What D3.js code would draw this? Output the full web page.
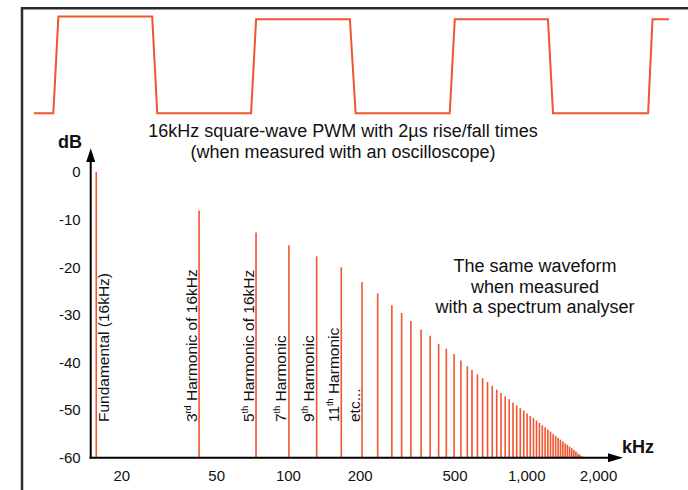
<!DOCTYPE html>
<html>
<head>
<meta charset="utf-8">
<script src="https://cdn.jsdelivr.net/npm/d3@7"></script>
<style>
  body { margin: 0; background: #fff; }
  svg text { font-family: "Liberation Sans", Arial, sans-serif; fill: #111; }
</style>
</head>
<body>
<div id="chart"></div>
<script>

// oscilloscope trace (time in us, level 0 = low, 1 = high)
const waveTimes  = [0, 6.1, 7.7, 37.3, 38.9, 68.5, 70.1, 99.7, 101.5, 131.2, 132.8, 162.2, 163.8, 193.8, 195.2, 200.4];
const waveLevels = [0, 0, 1.03, 1.03, 0, 0, 1, 1, 0, 0, 1, 1, 0, 0, 1, 1];

// spectrum lines (odd harmonics), kHz and dB
const freqKHz = [15.7, 42.4, 73.5, 101, 132, 167.5, 204.6, 238, 273, 300, 328, 362, 395, 429, 462, 498, 532, 566,
    592, 624, 656, 688, 720, 752, 784, 816, 848, 880, 912, 944, 976, 1008, 1040, 1072, 1104, 1136, 1168, 1200,
    1232, 1264, 1296, 1328, 1360, 1392, 1424, 1456, 1488, 1520, 1552, 1584, 1616, 1648, 1680, 1712];
const levelDb = [0, -8.1, -12.7, -15.4, -17.7, -20.0, -23.1, -25.5, -28.0, -29.6, -31.3, -33.1, -34.4, -36.1, -37.1, -38.2, -39.6, -40.8,
    -41.6, -42.5, -43.3, -44.1, -44.9, -45.7, -46.4, -47.1, -47.7, -48.4, -49.0, -49.6, -50.1, -50.7, -51.2, -51.7, -52.2, -52.7,
    -53.2, -53.6, -54.1, -54.5, -55.0, -55.4, -55.8, -56.2, -56.6, -57.0, -57.3, -57.7, -58.0, -58.4, -58.7, -59.1, -59.4, -59.7];

// labels on the first lines
const labelMain = ["Fundamental (16kHz)", "3", "5", "7", "9", "11", "etc..."];
const labelSup  = ["", "rd", "th", "th", "th", "th", ""];
const labelRest = ["", " Harmonic of 16kHz", " Harmonic of 16kHz", " Harmonic", " Harmonic", " Harmonic", ""];

const yTicks = [0, -10, -20, -30, -40, -50, -60];
const xTicks = [20, 50, 100, 200, 500, 1000, 2000];

const width = 688, height = 490;
const color = "#f0552f";

const svg = d3.select("#chart").append("svg")
    .attr("width", width)
    .attr("height", height);

// frame
svg.append("path")
    .attr("d", "M22,490 L22,8.3 L688,8.3")
    .attr("fill", "none")
    .attr("stroke", "#2b2b2b")
    .attr("stroke-width", 2.5);

// square wave
const t = d3.scaleLinear().domain([0, 200.4]).range([34, 669]);
const lv = d3.scaleLinear().domain([0, 1]).range([113.3, 19.3]);

svg.append("path")
    .datum(d3.range(waveTimes.length))
    .attr("fill", "none")
    .attr("stroke", color)
    .attr("stroke-width", 2)
    .attr("d", d3.line().x(i => t(waveTimes[i])).y(i => lv(waveLevels[i])));

svg.append("text")
    .attr("x", 343).attr("y", 137)
    .attr("text-anchor", "middle")
    .style("font-size", "18px")
    .text("16kHz square-wave PWM with 2µs rise/fall times");
svg.append("text")
    .attr("x", 343).attr("y", 158)
    .attr("text-anchor", "middle")
    .style("font-size", "18px")
    .text("(when measured with an oscilloscope)");

// spectrum
const x = d3.scaleLog().domain([20, 2000]).range([121.3, 598]);
const y = d3.scaleLinear().domain([-60, 0]).range([457.7, 172]);
const axisX = 90.7;

svg.selectAll(".spec")
    .data(d3.range(freqKHz.length))
    .enter().append("line")
    .attr("class", "spec")
    .attr("x1", i => x(freqKHz[i]))
    .attr("x2", i => x(freqKHz[i]))
    .attr("y1", y(-60))
    .attr("y2", i => y(levelDb[i]))
    .attr("stroke", color)
    .attr("stroke-width", 1.6);

// vertical labels
labelMain.forEach(function (m, i) {
    var lx = x(freqKHz[i]) + (i == 0 ? 13 : -2.5);
    var txt = svg.append("text")
        .attr("transform", "translate(" + lx + ",422) rotate(-90)")
        .style("font-size", "15.5px");
    txt.append("tspan").text(m);
    if (labelSup[i]) {
        txt.append("tspan").attr("dy", -6).style("font-size", "9px").text(labelSup[i]);
        txt.append("tspan").attr("dy", 6).text(labelRest[i]);
    }
});

// axes
const gy = svg.append("g")
    .attr("transform", "translate(" + axisX + ",0)")
    .call(d3.axisLeft(y).tickValues(yTicks).tickSize(0).tickPadding(10).tickFormat(d => String(d)));
gy.select(".domain").remove();
gy.selectAll("text").style("font-size", "15px").attr("fill", "#111")
    .style("font-family", "'Liberation Sans', Arial, sans-serif");

const gx = svg.append("g")
    .attr("transform", "translate(0," + y(-60) + ")")
    .call(d3.axisBottom(x).tickValues(xTicks).tickSize(0).tickPadding(13).tickFormat(d3.format(",")));
gx.select(".domain").remove();
gx.selectAll("text").style("font-size", "15px").attr("fill", "#111")
    .style("font-family", "'Liberation Sans', Arial, sans-serif");

svg.append("line")
    .attr("x1", axisX).attr("x2", axisX)
    .attr("y1", y(-60) + 1).attr("y2", 158)
    .attr("stroke", "#000").attr("stroke-width", 2);
svg.append("path")
    .attr("d", "M" + axisX + ",148.3 L" + (axisX - 4.5) + ",162 L" + (axisX + 4.5) + ",162 Z")
    .attr("fill", "#000");

svg.append("line")
    .attr("x1", axisX - 1).attr("x2", 612)
    .attr("y1", y(-60)).attr("y2", y(-60))
    .attr("stroke", "#000").attr("stroke-width", 2);
svg.append("path")
    .attr("d", "M623," + y(-60) + " L608," + (y(-60) - 4.5) + " L608," + (y(-60) + 4.5) + " Z")
    .attr("fill", "#000");

svg.append("text")
    .attr("x", 58).attr("y", 148)
    .style("font-size", "18px").style("font-weight", "bold")
    .text("dB");
svg.append("text")
    .attr("x", 622).attr("y", 453)
    .style("font-size", "18px").style("font-weight", "bold")
    .text("kHz");

// right note
const note = ["The same waveform", "when measured", "with a spectrum analyser"];
svg.selectAll(".note")
    .data(note).enter().append("text")
    .attr("class", "note")
    .attr("x", 535)
    .attr("y", (d, i) => 272 + i * 20.5)
    .attr("text-anchor", "middle")
    .style("font-size", "18px")
    .text(d => d);

</script>
</body>
</html>
